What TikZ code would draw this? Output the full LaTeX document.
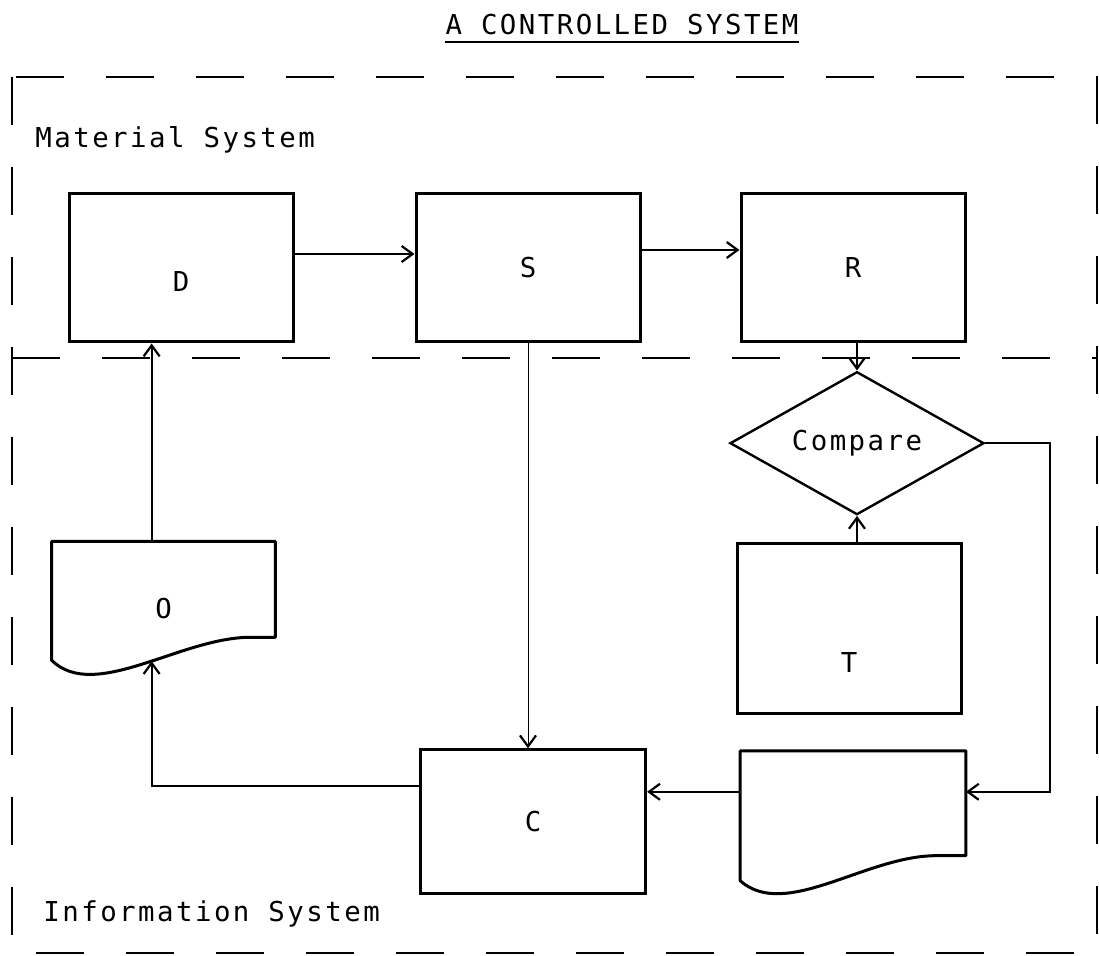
\documentclass[tikz,border=0pt]{standalone}
\usepackage{fontspec}
\setmainfont{DejaVu Sans Mono}[LetterSpace=9]
\usetikzlibrary{shapes.geometric, arrows.meta, positioning, calc}
\tikzstyle{box} = [rectangle, draw=black, line width=1.5pt, minimum width=112pt, minimum height=74pt, text centered]
\tikzstyle{docbox} = [rectangle, minimum width=112pt, minimum height=70pt, text centered]
\tikzstyle{decision} = [diamond, draw=black, line width=1.2pt, aspect=1.78, inner sep=0pt, minimum width=127pt, minimum height=71.5pt]
\tikzstyle{arrow} = [line width=1.1pt, -{Straight Barb[length=5.5pt, width=8pt, line width=1.1pt]}]
\tikzstyle{thinarrow} = [line width=0.5pt, -{Straight Barb[length=5.5pt, width=8pt, line width=1.1pt]}]
\tikzstyle{frame} = [line width=1.4pt, dash pattern=on 24pt off 21pt]
\tikzstyle{outline} = [line width=1.5pt, line join=round]

\begin{document}
\begin{tikzpicture}[x=0.5pt, y=-0.5pt, font=\fontsize{13.7}{16}\selectfont]
\useasboundingbox (0,0) rectangle (1099,956);

% Frame
\draw [frame] (12,77) rectangle (1097,953);
\draw [frame] (12,358) -- (1097,358);

% Labels
\node (title) [anchor=base, inner sep=0pt] at (622,35) {A CONTROLLED SYSTEM};
\draw [line width=0.9pt] ([yshift=-3.5pt]title.base west) -- ([yshift=-3.5pt]title.base east);
\node (matsys) [anchor=base west, inner sep=0pt] at (35,148) {Material System};
\node (infsys) [anchor=base west, inner sep=0pt] at (43,922) {Information System};

% Nodes
\node (d) [box, label={[yshift=-7pt]center:D}] at (181,268) {};
\node (s) [box, right=60pt of d] {S};
\node (r) [box, right=49pt of s] {R};
\node (cmp) [decision, below=13.5pt of r, xshift=2pt] {Compare};
\node (t) [box, minimum height=85pt, below=13pt of cmp, xshift=-4pt, label={[yshift=-17pt]center:T}] {};
\node (tdoc) [docbox, minimum width=112.5pt, minimum height=70.5pt, below=18pt of t, xshift=2pt] {};
\node (c) [box, minimum width=112.5pt, minimum height=72pt, left=46.5pt of tdoc] {C};
\node (o) [docbox, minimum width=111.5pt, minimum height=66.5pt, below=99pt of d, xshift=-8.75pt] {O};

% Document outlines
\draw [outline] (o.north west) -- (o.north east) -- ([yshift=19pt]o.south east) -- ++(-25,0)
  .. controls +(-70,0) and +(43,42) .. ([yshift=7.5pt]o.south west) coordinate[pos=0.45] (oin) -- cycle;
\draw [outline] (tdoc.north west) -- (tdoc.north east) -- ([yshift=18.5pt]tdoc.south east) -- ++(-30,0)
  .. controls +(-70,0) and +(45,40) .. ([yshift=6pt]tdoc.south west) -- cycle;

% Arrows
\draw [arrow] ([yshift=7pt]d.east) -- ([yshift=7pt]d.east -| s.west);
\draw [arrow] ([yshift=9pt]s.east) -- ([yshift=9pt]s.east -| r.west);
\draw [arrow] (r.south -| cmp.north) -- (cmp.north);
\draw [arrow] (t.north -| cmp.south) -- (cmp.south);
\draw [arrow] (cmp.east) -- ++(65,0) |- ([yshift=15pt]tdoc.east);
\draw [arrow] ([yshift=15pt]tdoc.west) -- ([yshift=15pt]c.east);
\draw [thinarrow] (s.south) -- (s.south |- c.north);
\draw [arrow] ([yshift=18pt]c.west) -| (oin);
\draw [arrow] (o.north -| oin) -- (oin |- d.south);

\end{tikzpicture}
\end{document}
